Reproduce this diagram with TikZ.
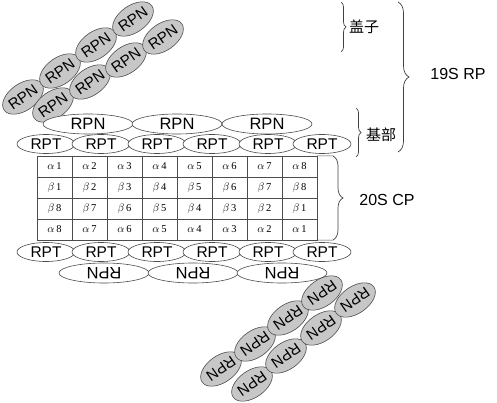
\documentclass[tikz,border=0pt]{standalone}
\usepackage{fontspec}
\setmainfont{Liberation Sans}
\newfontfamily\cjk{Noto Sans CJK SC}
\newfontfamily\cellfont{Liberation Serif}
\usetikzlibrary{shapes.geometric,decorations.pathreplacing}
\begin{document}
\begin{tikzpicture}[x=1pt,y=-1pt,
  capell/.style={ellipse,draw=black!70,fill=black!22,line width=0.6pt,minimum width=46pt,minimum height=27pt,inner sep=0pt,font=\fontsize{15}{15}\selectfont},
  rpn/.style={ellipse,draw=black!70,fill=white,line width=0.6pt,minimum width=90pt,minimum height=20pt,inner sep=0pt,font=\fontsize{16.5}{16.5}\selectfont},
  rpt/.style={ellipse,draw=black!70,fill=white,line width=0.6pt,minimum width=58pt,minimum height=19pt,inner sep=0pt,font=\fontsize{15.5}{15.5}\selectfont},
  cell/.style={draw=black!70,line width=0.5pt,minimum width=35pt,minimum height=21pt,inner sep=0pt,font=\cellfont\fontsize{10.5}{10.5}\selectfont},
  brc/.style={draw=black!75,line width=0.7pt,decorate},
  lbl/.style={font=\fontsize{16}{16}\selectfont,inner sep=0pt},
  cjklbl/.style={font=\cjk\fontsize{15}{15}\selectfont,inner sep=0pt}]
\useasboundingbox (0,0) rectangle (497,403);
% top cap
\foreach \n/\x/\y in {a1/23/97,a2/60/71,a3/96/45,a4/133/19,b1/53/105,b2/90/82,b3/126/60,b4/163/37}
  \node[capell,rotate=35] (t\n) at (\x,\y) {RPN};
% bottom cap
\foreach \n/\x/\y in {a1/221/369,a2/255/344,a3/288/318,a4/322/293,b1/252/384,b2/286/356,b3/321/328,b4/355/300}
  \node[capell,rotate=215] (u\n) at (\x,\y) {RPN};
% base top
\node[rpn] (rpn1) at (88,124) {RPN};
\node[rpn] (rpn2) at (177,124) {RPN};
\node[rpn] (rpn3) at (267,124) {RPN};
\foreach \i/\x in {1/46,2/101,3/157,4/212,5/268,6/322}
  \node[rpt] (rpt\i) at (\x,144) {RPT};
% base bottom
\node[rpn,rotate=180] (rpn4) at (104,273) {RPN};
\node[rpn,rotate=180] (rpn5) at (193,273) {RPN};
\node[rpn,rotate=180] (rpn6) at (282,273) {RPN};
\foreach \i/\x in {1/46,2/101,3/157,4/212,5/268,6/322}
  \node[rpt] (rpb\i) at (\x,252) {RPT};
% core table
\foreach \c in {1,...,8}{
  \node[cell] (ca\c) at ({37+35*(\c-0.5)},166.5) {$\alpha$\,\c};
  \node[cell] (cb\c) at ({37+35*(\c-0.5)},187.5) {$\beta$\,\c};
}
\foreach \c/\v in {1/8,2/7,3/6,4/5,5/4,6/3,7/2,8/1}{
  \node[cell] (cc\c) at ({37+35*(\c-0.5)},208.5) {$\beta$\,\v};
  \node[cell] (cd\c) at ({37+35*(\c-0.5)},229.5) {$\alpha$\,\v};
}
\coordinate (ctop) at (333,156);
\coordinate (cbot) at (333,240);
\draw[draw=black!70,line width=0.5pt] (ca8.north east) -- (ctop);
\draw[draw=black!70,line width=0.5pt] (cd8.south east) -- (cbot);
% braces
\coordinate (g1) at (341,2);  \coordinate (g2) at (341,52);
\coordinate (r1) at (398,2);  \coordinate (r2) at (398,152);
\coordinate (j1) at (356,108); \coordinate (j2) at (356,157);
\draw[brc,decoration={brace,amplitude=5pt}] (g1) -- (g2);
\draw[brc,decoration={brace,amplitude=11pt}] (r1) -- (r2);
\draw[brc,decoration={brace,amplitude=5pt}] (j1) -- (j2);
\draw[brc,decoration={brace,amplitude=10pt}] (ctop) -- (cbot);
\node[cjklbl] (gaizi) at (364,27) {盖子};
\node[cjklbl] (jibu) at (381,135) {基部};
\node[lbl] (rp) at (458,74) {19S RP};
\node[lbl] (cp) at (387,200) {20S CP};
\end{tikzpicture}
\end{document}
